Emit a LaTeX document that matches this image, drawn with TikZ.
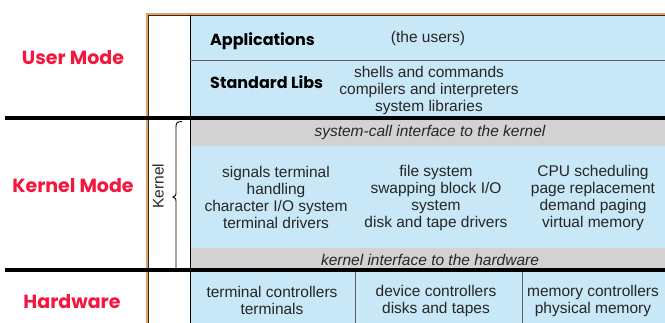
\documentclass[tikz,border=0pt]{standalone}
\usepackage{fontspec}
\setmainfont{Liberation Sans}
\newfontfamily\casual{Poppins}
\usetikzlibrary{calc}
\definecolor{bluebg}{HTML}{C8E7F7}
\definecolor{grayband}{HTML}{D2D2D2}
\definecolor{modered}{HTML}{F5163E}
\definecolor{frametan}{HTML}{E2A068}
\definecolor{divline}{HTML}{606060}
\tikzset{
  body/.style={font=\fontsize{15.5}{17}\selectfont, align=center, inner sep=0pt, text=black!85},
  band/.style={font=\fontsize{15.5}{17}\selectfont\itshape, inner sep=0pt, text=black!85},
  mode/.style={font=\casual\bfseries\fontsize{19}{21}\selectfont, text=modered, inner sep=0pt},
  head/.style={font=\casual\bfseries\fontsize{16}{18}\selectfont, anchor=west, inner sep=0pt},
  thick rule/.style={line width=4pt, black},
}
\begin{document}
\begin{tikzpicture}[x=1pt,y=-1pt]
\useasboundingbox (0,0) rectangle (665,323);
% backgrounds
\fill[bluebg] (190,15) rectangle (665,323);
\fill[grayband] (190,120) rectangle (665,146);
\fill[grayband] (190,248) rectangle (665,270);
% frame
\draw[frametan, line width=2.5pt] (147,323) -- (147,14) -- (665,14);
\draw[black!70!brown, line width=0.4pt] (148.3,323) -- (148.3,15.3) -- (665,15.3);
% blue area left border
\draw[black, line width=0.8pt] (190,15) -- (190,323);
% separator applications/libs
\draw[divline, line width=0.8pt] (190,60) -- (665,60);
% hardware dividers
\draw[divline, line width=1pt] (355,272) -- (355,323);
\draw[divline, line width=1pt] (522,272) -- (522,323);
% thick rules
\draw[thick rule] (5,118) -- (665,118);
\draw[thick rule] (5,270) -- (665,270);
% brace
\draw[black, line width=0.9pt] (182,121.5) .. controls (177,121.5) and (176,123) .. (176,127)
  -- (176,193) .. controls (176,195.5) .. (173,197) .. controls (176,198.5) .. (176,201) -- (176,268);
% mode labels
\node[mode] (um) at (73,58) {User Mode};
\node[mode] (km) at (73,186) {Kernel Mode};
\node[mode] (hw) at (72,302) {Hardware};
\node[body, rotate=90] (kern) at (158,186) {Kernel};
% user area
\node[head] (app) at (210,41) {Applications};
\node[body] (users) at (428,38) {(the users)};
\node[head] (lib) at (210,82) {Standard Libs};
\node[body] (libs) at (429,90.5) {shells and commands\\compilers and interpreters\\system libraries};
% kernel area
\node[band] (sci) at (430,132.5) {system-call interface to the kernel};
\node[body] (k1) at (276,197.5) {signals terminal\\handling\\character I/O system\\terminal drivers};
\node[body] (k2) at (436,197.5) {file system\\swapping block I/O\\system\\disk and tape drivers};
\node[body] (k3) at (593,197.5) {CPU scheduling\\page replacement\\demand paging\\virtual memory};
\node[band] (khw) at (430,260) {kernel interface to the hardware};
% hardware
\node[body] (h1) at (272,300.5) {terminal controllers\\terminals};
\node[body] (h2) at (436,300.5) {device controllers\\disks and tapes};
\node[body] (h3) at (593,300.5) {memory controllers\\physical memory};
\end{tikzpicture}
\end{document}
